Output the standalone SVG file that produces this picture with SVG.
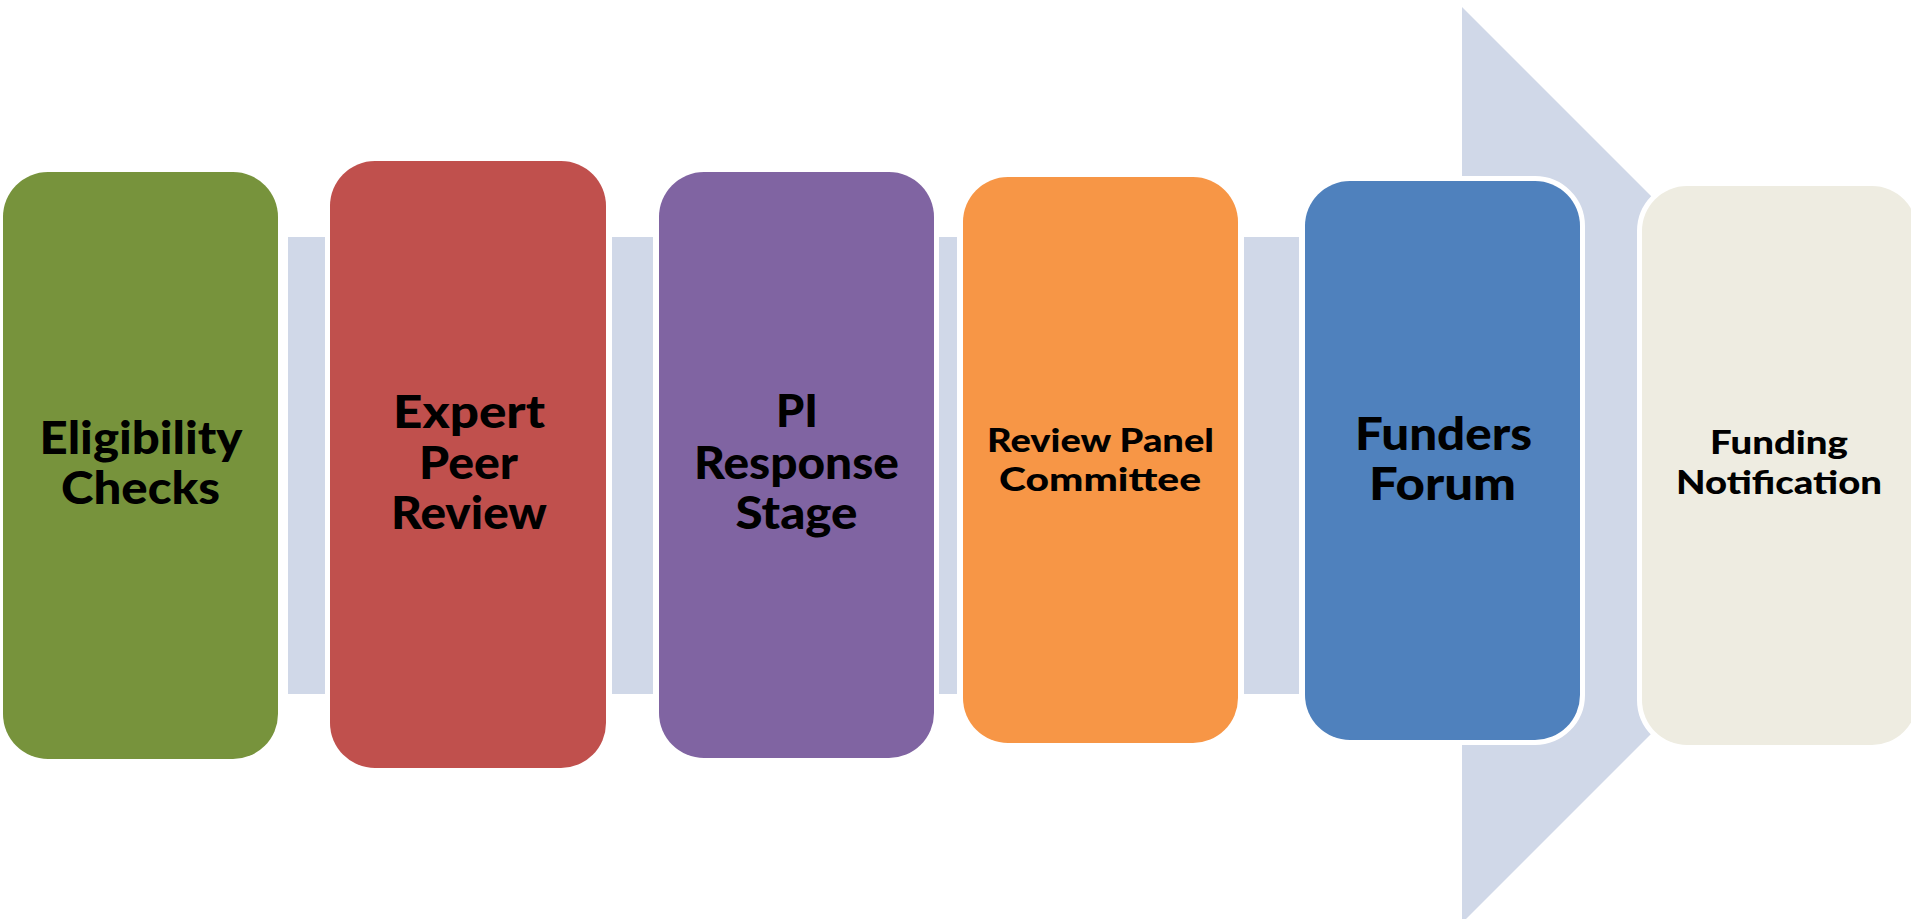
<svg xmlns="http://www.w3.org/2000/svg" width="1911" height="919" viewBox="0 0 1911 919">
<style>
.box{stroke:#FFFFFF;stroke-width:10;paint-order:stroke}
.arrow{fill:#D0D8E8}
.t{font-family:Lato,"Open Sans","Liberation Sans",sans-serif;font-weight:900;fill:#000000;text-anchor:middle}
.big{font-size:45px}
.small{font-size:32px}
</style>
<rect width="1911" height="919" fill="#FFFFFF"/>
<g id="connectors">
<polygon class="arrow" points="1462,7 1920,465 1462,923"/>
<rect class="arrow" x="288" y="237" width="37" height="457"/>
<rect class="arrow" x="612" y="237" width="41" height="457"/>
<rect class="arrow" x="939" y="237" width="18" height="457"/>
<rect class="arrow" x="1244" y="237" width="55" height="457"/>
</g>
<g id="eligibility-checks">
<rect class="box" x="3" y="172" width="275" height="587" rx="45" fill="#77933C"/>
<text class="t big" x="141" y="454" textLength="203" lengthAdjust="spacingAndGlyphs">Eligibility</text>
<text class="t big" x="140.5" y="504" textLength="159" lengthAdjust="spacingAndGlyphs">Checks</text>
</g>
<g id="expert-peer-review">
<rect class="box" x="330" y="161" width="276" height="607" rx="45" fill="#C0504D"/>
<text class="t big" x="469" y="428" textLength="152" lengthAdjust="spacingAndGlyphs">Expert</text>
<text class="t big" x="468.5" y="479" textLength="99" lengthAdjust="spacingAndGlyphs">Peer</text>
<text class="t big" x="469" y="529" textLength="156" lengthAdjust="spacingAndGlyphs">Review</text>
</g>
<g id="pi-response-stage">
<rect class="box" x="659" y="172" width="275" height="586" rx="45" fill="#8064A2"/>
<text class="t big" x="797" y="427" textLength="42" lengthAdjust="spacingAndGlyphs">PI</text>
<text class="t big" x="796.5" y="479" textLength="205" lengthAdjust="spacingAndGlyphs">Response</text>
<text class="t big" x="796.5" y="529" textLength="122" lengthAdjust="spacingAndGlyphs">Stage</text>
</g>
<g id="review-panel-committee">
<rect class="box" x="963" y="177" width="275" height="566" rx="45" fill="#F79646"/>
<text class="t small" x="1100.5" y="452" textLength="227" lengthAdjust="spacingAndGlyphs">Review Panel</text>
<text class="t small" x="1100" y="491" textLength="202" lengthAdjust="spacingAndGlyphs">Committee</text>
</g>
<g id="funders-forum">
<rect class="box" x="1305" y="181" width="275" height="559" rx="45" fill="#4F81BD"/>
<text class="t big" x="1443.5" y="450" textLength="177" lengthAdjust="spacingAndGlyphs">Funders</text>
<text class="t big" x="1442.5" y="500" textLength="147" lengthAdjust="spacingAndGlyphs">Forum</text>
</g>
<g id="funding-notification">
<rect class="box" x="1642" y="186" width="275" height="559" rx="45" fill="#EEECE1"/>
<text class="t small" x="1779" y="454" textLength="138" lengthAdjust="spacingAndGlyphs">Funding</text>
<text class="t small" x="1779" y="494" textLength="206" lengthAdjust="spacingAndGlyphs">Notification</text>
</g>
</svg>
